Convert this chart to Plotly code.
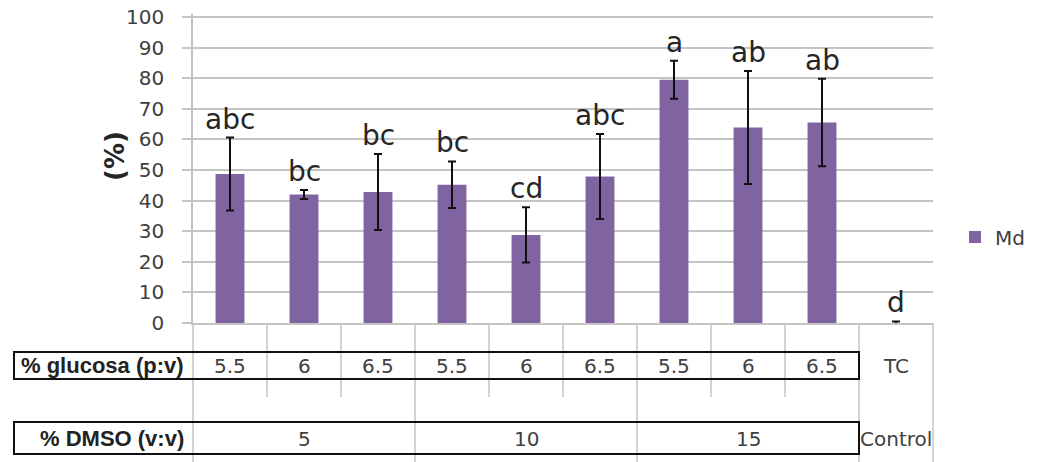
import plotly.graph_objects as go

# ---------------- data ----------------
glucosa = ["5.5", "6", "6.5", "5.5", "6", "6.5", "5.5", "6", "6.5", "TC"]
dmso_groups = ["5", "10", "15", "Control"]
group_sizes = [3, 3, 3, 1]
md = [48.7, 42.0, 42.8, 45.2, 28.8, 47.9, 79.5, 63.9, 65.5, 0.0]
md_err = [11.9, 1.5, 12.4, 7.6, 9.0, 13.9, 6.2, 18.5, 14.3, 0.5]
letters = ["abc", "bc", "bc", "bc", "cd", "abc", "a", "ab", "ab", "d"]
y_ticks = [0, 10, 20, 30, 40, 50, 60, 70, 80, 90, 100]
row_labels = ["% glucosa (p:v)", "% DMSO (v:v)"]
series_name = "Md"

# ---------------- styling ----------------
OFF = 8                      # page body margin of the html page
Y_TOP = 101                  # a little headroom so the 100 gridline is drawn
W, H = 1039 - OFF, 462 - OFF
PW, PH = 740, 309
ML, MT = 193 - OFF, 17 - 3 - OFF
MR, MB = W - ML - PW, H - MT - PH
BAR = "#8064A2"
GRID = "#c4c4c4"
TXT = "#404040"
FONT = "DejaVu Sans"
n = len(glucosa)
xs = list(range(n))


def py(pix):
    """page pixel row -> paper y"""
    return (MT + PH - (pix - OFF)) / PH


def px(pix):
    """page pixel column -> paper x"""
    return (pix - OFF - ML) / PW


fig = go.Figure()
fig.add_trace(go.Bar(
    x=xs, y=md, name=series_name, width=0.39,
    marker=dict(color=BAR, line=dict(width=0)),
    error_y=dict(type="data", array=md_err, visible=True,
                 color="#111111", thickness=2, width=4),
))

annotations = []
# significance letters
for i, (v, e, t) in enumerate(zip(md, md_err, letters)):
    annotations.append(dict(x=i, y=v + e, xref="x", yref="y", text=t,
                            showarrow=False, yanchor="bottom",
                            font=dict(family=FONT, size=28, color="#262626")))
# glucosa row labels
for i, t in enumerate(glucosa):
    annotations.append(dict(x=i, y=py(366), xref="x", yref="paper", text=t,
                            showarrow=False, yanchor="middle",
                            font=dict(family=FONT, size=20, color=TXT)))
# DMSO group labels
shapes = []
start = 0
bounds = [0]
for g, s in zip(dmso_groups, group_sizes):
    mid = start + (s - 1) / 2
    annotations.append(dict(x=mid, y=py(439), xref="x", yref="paper", text=g,
                            showarrow=False, yanchor="middle",
                            font=dict(family=FONT, size=20, color=TXT)))
    start += s
    bounds.append(start)

# row headers
for lbl, yc in zip(row_labels, [365.5, 438]):
    annotations.append(dict(x=px(186), y=py(yc), xref="paper", yref="paper",
                            text="<b>" + lbl + "</b>", showarrow=False,
                            xanchor="right", yanchor="middle",
                            font=dict(family="Liberation Sans", size=22, color="#222222")))

# y-axis title
annotations.append(dict(x=px(115), y=py(156), xref="paper", yref="paper",
                        text="<b>(%)</b>", textangle=-90, showarrow=False,
                        xanchor="center", yanchor="middle",
                        font=dict(family=FONT, size=26, color="#262626")))

# explicit top gridline at the highest tick (paper-referenced, never clipped)
y_top_paper = y_ticks[-1] / Y_TOP
shapes.append(dict(type="line", xref="paper", yref="paper", x0=0, x1=1,
                   y0=y_top_paper, y1=y_top_paper, layer="above",
                   line=dict(color=GRID, width=1.5)))

# table vertical lines
for k in range(n + 1):
    xk = k / n
    long_line = k in bounds
    shapes.append(dict(type="line", xref="paper", yref="paper",
                       x0=xk, x1=xk, y0=0, y1=(py(470) if long_line else py(397)),
                       line=dict(color=GRID, width=1.5)))

# boxes around table rows
box_right = bounds[-2] / n
for y0p, y1p in [(352, 379), (422, 454)]:
    shapes.append(dict(type="rect", xref="paper", yref="paper",
                       x0=px(14), x1=box_right, y0=py(y1p), y1=py(y0p),
                       line=dict(color="#111111", width=2)))

fig.update_layout(
    width=W, height=H,
    margin=dict(l=ML, r=MR, t=MT, b=MB, pad=0, autoexpand=False),
    paper_bgcolor="white", plot_bgcolor="white",
    font=dict(family=FONT, color=TXT),
    showlegend=True,
    legend=dict(x=px(955), y=py(237), xanchor="left", yanchor="middle",
                font=dict(family=FONT, size=20, color=TXT),
                bgcolor="rgba(0,0,0,0)"),
    annotations=annotations,
    shapes=shapes,
    bargap=0.6,
)
fig.update_xaxes(range=[-0.5, n - 0.5], showticklabels=False, showgrid=False,
                 zeroline=False, showline=True, linecolor=GRID, linewidth=1.5,
                 ticks="", automargin=False)
fig.update_yaxes(range=[0, Y_TOP], tickvals=y_ticks,
                 showgrid=True, gridcolor=GRID,
                 gridwidth=1.5, zeroline=False, showline=True, linecolor=GRID,
                 linewidth=1.5, ticks="outside", ticklen=9, tickcolor=GRID,
                 tickwidth=1.5, ticklabelstandoff=14, automargin=False,
                 ticklabeloverflow="allow",
                 tickfont=dict(family=FONT, size=20, color=TXT))

fig.write_html("out.html")
